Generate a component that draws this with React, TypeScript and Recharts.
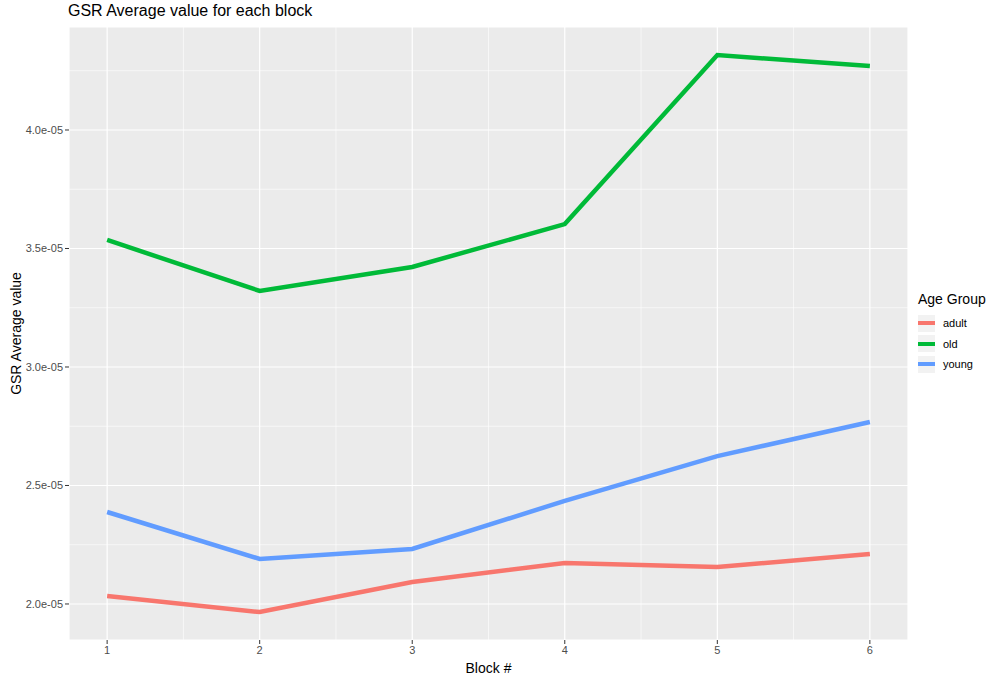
import React from "react";
import {
  LineChart,
  Line,
  XAxis,
  YAxis,
  CartesianGrid,
  ReferenceLine,
} from "recharts";

const blocks = [1, 2, 3, 4, 5, 6];
const adult = [2.034e-5, 1.966e-5, 2.093e-5, 2.173e-5, 2.156e-5, 2.211e-5];
const old = [3.536e-5, 3.321e-5, 3.422e-5, 3.603e-5, 4.316e-5, 4.27e-5];
const young = [2.388e-5, 2.19e-5, 2.232e-5, 2.435e-5, 2.624e-5, 2.768e-5];

const yTicks = [2.0e-5, 2.5e-5, 3.0e-5, 3.5e-5, 4.0e-5];
const yMinor = [2.25e-5, 2.75e-5, 3.25e-5, 3.75e-5, 4.25e-5];
const xMinor = [1.5, 2.5, 3.5, 4.5, 5.5];

const series = [
  { key: "adult", color: "#F8766D" },
  { key: "old", color: "#00BA38" },
  { key: "young", color: "#619CFF" },
];

const data = blocks.map((b, i) => ({
  block: b,
  adult: adult[i],
  old: old[i],
  young: young[i],
}));

const FONT = "'Liberation Sans', Arial, sans-serif";

const fmt = (v: number) => (v / 1e-5).toFixed(1) + "e-05";

function LegendBox() {
  return (
    <div style={{ position: "absolute", left: 918, top: 291, fontFamily: FONT }}>
      <div style={{ fontSize: 14, color: "#000", marginBottom: 6 }}>Age Group</div>
      {series.map((s) => (
        <div key={s.key} style={{ display: "flex", alignItems: "center", height: 20.5 }}>
          <div
            style={{
              width: 17,
              height: 17,
              background: "#F2F2F2",
              display: "flex",
              alignItems: "center",
              justifyContent: "center",
            }}
          >
            <div style={{ width: 17, height: 4, background: s.color }} />
          </div>
          <span style={{ fontSize: 11, marginLeft: 8, color: "#000" }}>{s.key}</span>
        </div>
      ))}
    </div>
  );
}

export default function App() {
  return (
    <div style={{ position: "absolute", left: 0, top: 0, width: 995, height: 675, background: "#fff" }}>
      <div
        style={{
          position: "absolute",
          left: 68,
          top: 2,
          fontFamily: FONT,
          fontSize: 16,
          color: "#000",
        }}
      >
        GSR Average value for each block
      </div>
      <LineChart
        width={995}
        height={675}
        data={data}
        margin={{ top: 27, right: 87, bottom: 0, left: 0 }}
      >
        <CartesianGrid fill="#EBEBEB" stroke="#FFFFFF" strokeWidth={1.2} />
        {xMinor.map((x) => (
          <ReferenceLine key={"x" + x} x={x} stroke="#FFFFFF" strokeWidth={0.6} />
        ))}
        {yMinor.map((y) => (
          <ReferenceLine key={"y" + y} y={y} stroke="#FFFFFF" strokeWidth={0.6} />
        ))}
        <XAxis
          dataKey="block"
          type="number"
          domain={[0.75, 6.25]}
          ticks={blocks}
          allowDataOverflow
          height={35}
          axisLine={false}
          tickSize={4}
          tickLine={{ stroke: "#333333" }}
          tick={{ fill: "#4D4D4D", fontSize: 11, fontFamily: FONT }}
          label={{
            value: "Block #",
            position: "insideBottom",
            offset: 2,
            style: { fill: "#000", fontSize: 14, fontFamily: FONT },
          }}
        />
        <YAxis
          type="number"
          domain={[1.848e-5, 4.4346e-5]}
          ticks={yTicks}
          allowDataOverflow
          width={69}
          axisLine={false}
          tickSize={4}
          tickMargin={2}
          tickLine={{ stroke: "#333333" }}
          tickFormatter={fmt}
          tick={{ fill: "#4D4D4D", fontSize: 11, fontFamily: FONT }}
          label={{
            value: "GSR Average value",
            angle: -90,
            position: "insideLeft",
            offset: 16,
            style: { fill: "#000", fontSize: 14, fontFamily: FONT, textAnchor: "middle" },
          }}
        />
        {series.map((s) => (
          <Line
            key={s.key}
            dataKey={s.key}
            stroke={s.color}
            strokeWidth={4.5}
            dot={false}
            activeDot={false}
            isAnimationActive={false}
            type="linear"
          />
        ))}
      </LineChart>
      <LegendBox />
    </div>
  );
}
